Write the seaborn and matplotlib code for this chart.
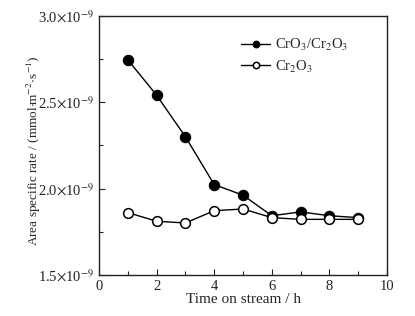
import matplotlib
matplotlib.use("Agg")
import matplotlib.pyplot as plt
import seaborn as sns
import pandas as pd
from matplotlib.ticker import MultipleLocator, FixedLocator

time_h = [1, 2, 3, 4, 5, 6, 7, 8, 9]
cro3_cr2o3 = [2.745, 2.54, 2.30, 2.023, 1.962, 1.843, 1.865, 1.843, 1.832]
cr2o3 = [1.861, 1.811, 1.801, 1.872, 1.882, 1.832, 1.822, 1.822, 1.822]
ytick_vals = [1.5, 2.0, 2.5, 3.0]
ytick_labels = [r"1.5$\times$10$^{-9}$", r"2.0$\times$10$^{-9}$",
                r"2.5$\times$10$^{-9}$", r"3.0$\times$10$^{-9}$"]

sns.set_style("ticks")
plt.rcParams['font.family'] = ['Liberation Serif', 'DejaVu Serif']
plt.rcParams['mathtext.fontset'] = 'stix'

df = pd.DataFrame({
    "t": time_h * 2,
    "v": cro3_cr2o3 + cr2o3,
    "s": ["A"] * len(time_h) + ["B"] * len(time_h),
})

fig = plt.figure(figsize=(4.15, 3.16), dpi=100)
ax = fig.add_axes([0.2386, 0.1297, 0.6939, 0.8206])

sns.lineplot(data=df[df.s == "A"], x="t", y="v", ax=ax, color="black", lw=1,
             marker="o", markersize=7.5, markerfacecolor="black",
             markeredgecolor="black", label=r"CrO$_3$/Cr$_2$O$_3$")
sns.lineplot(data=df[df.s == "B"], x="t", y="v", ax=ax, color="black", lw=1,
             marker="o", markersize=7, markerfacecolor="white",
             markeredgecolor="black", markeredgewidth=1.1, label=r"Cr$_2$O$_3$")

ax.set_xlim(0, 10)
ax.set_ylim(1.5, 3.0)
ax.xaxis.set_major_locator(MultipleLocator(2))
ax.xaxis.set_minor_locator(MultipleLocator(1))
ax.yaxis.set_major_locator(FixedLocator(ytick_vals))
ax.set_yticklabels(ytick_labels)
ax.yaxis.set_minor_locator(MultipleLocator(0.25))
ax.tick_params(which="both", direction="in", labelsize=10.5, width=0.8, colors="#222222")
ax.tick_params(which="major", length=4)
ax.tick_params(which="minor", length=3)
for sp in ax.spines.values():
    sp.set_linewidth(1)
    sp.set_color("#222222")

ax.set_xlabel("Time on stream / h", fontsize=11, labelpad=0)
ax.set_ylabel(r"Area specific rate / (mmol$\cdot\!$m$^{-2}\!\cdot\!$s$^{-1}$)", fontsize=9.5, labelpad=0)
ax.yaxis.set_label_coords(-0.195, 0.48)

leg = ax.legend(loc="upper right", bbox_to_anchor=(0.91, 0.97), frameon=False,
                fontsize=10.5, handlelength=2.0, handletextpad=0.3, labelspacing=0.4,
                markerscale=0.65)

fig.savefig("out.png", dpi=100)
